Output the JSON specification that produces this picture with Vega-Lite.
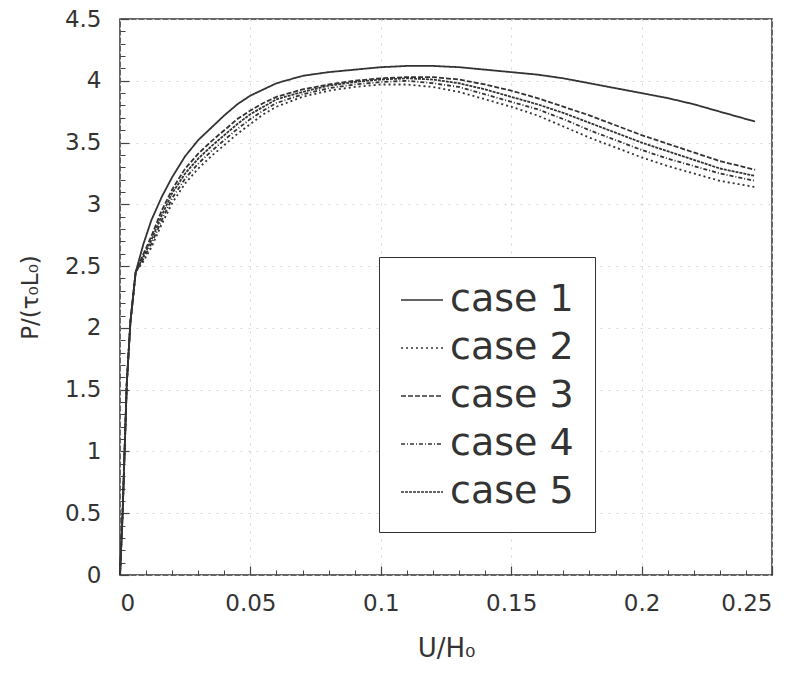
{
  "$schema": "https://vega.github.io/schema/vega-lite/v6.json",
  "width": 652,
  "height": 556,
  "autosize": "none",
  "padding": {"left": 120, "top": 19, "right": 38, "bottom": 105},
  "background": "white",
  "config": {
    "view": {"stroke": "#333", "strokeWidth": 1.5},
    "font": "DejaVu Sans"
  },
  "datasets": {
    "pts": [
      {"c":"case 1","x":0,"y":0},{"c":"case 1","x":0.001,"y":0.5},{"c":"case 1","x":0.0026,"y":1.55},{"c":"case 1","x":0.004,"y":2.05},{"c":"case 1","x":0.006,"y":2.45},{"c":"case 1","x":0.009,"y":2.68},{"c":"case 1","x":0.012,"y":2.87},{"c":"case 1","x":0.016,"y":3.06},{"c":"case 1","x":0.02,"y":3.22},{"c":"case 1","x":0.025,"y":3.39},{"c":"case 1","x":0.03,"y":3.52},{"c":"case 1","x":0.035,"y":3.62},{"c":"case 1","x":0.04,"y":3.72},{"c":"case 1","x":0.045,"y":3.81},{"c":"case 1","x":0.05,"y":3.88},{"c":"case 1","x":0.055,"y":3.93},{"c":"case 1","x":0.06,"y":3.98},{"c":"case 1","x":0.07,"y":4.04},{"c":"case 1","x":0.08,"y":4.07},{"c":"case 1","x":0.09,"y":4.09},{"c":"case 1","x":0.1,"y":4.11},{"c":"case 1","x":0.11,"y":4.12},{"c":"case 1","x":0.12,"y":4.12},{"c":"case 1","x":0.13,"y":4.11},{"c":"case 1","x":0.14,"y":4.09},{"c":"case 1","x":0.15,"y":4.07},{"c":"case 1","x":0.16,"y":4.05},{"c":"case 1","x":0.17,"y":4.02},{"c":"case 1","x":0.18,"y":3.98},{"c":"case 1","x":0.19,"y":3.94},{"c":"case 1","x":0.2,"y":3.9},{"c":"case 1","x":0.21,"y":3.86},{"c":"case 1","x":0.22,"y":3.81},{"c":"case 1","x":0.23,"y":3.75},{"c":"case 1","x":0.2435,"y":3.67},
      {"c":"case 2","x":0,"y":0},{"c":"case 2","x":0.001,"y":0.5},{"c":"case 2","x":0.0026,"y":1.55},{"c":"case 2","x":0.004,"y":2.05},{"c":"case 2","x":0.006,"y":2.45},{"c":"case 2","x":0.009,"y":2.54},{"c":"case 2","x":0.012,"y":2.65},{"c":"case 2","x":0.016,"y":2.84},{"c":"case 2","x":0.02,"y":3.01},{"c":"case 2","x":0.025,"y":3.17},{"c":"case 2","x":0.03,"y":3.29},{"c":"case 2","x":0.035,"y":3.39},{"c":"case 2","x":0.04,"y":3.48},{"c":"case 2","x":0.045,"y":3.57},{"c":"case 2","x":0.05,"y":3.65},{"c":"case 2","x":0.055,"y":3.73},{"c":"case 2","x":0.06,"y":3.79},{"c":"case 2","x":0.07,"y":3.87},{"c":"case 2","x":0.08,"y":3.92},{"c":"case 2","x":0.09,"y":3.95},{"c":"case 2","x":0.1,"y":3.97},{"c":"case 2","x":0.11,"y":3.97},{"c":"case 2","x":0.12,"y":3.95},{"c":"case 2","x":0.13,"y":3.91},{"c":"case 2","x":0.14,"y":3.85},{"c":"case 2","x":0.15,"y":3.79},{"c":"case 2","x":0.16,"y":3.72},{"c":"case 2","x":0.17,"y":3.63},{"c":"case 2","x":0.18,"y":3.54},{"c":"case 2","x":0.19,"y":3.46},{"c":"case 2","x":0.2,"y":3.38},{"c":"case 2","x":0.21,"y":3.31},{"c":"case 2","x":0.22,"y":3.25},{"c":"case 2","x":0.23,"y":3.19},{"c":"case 2","x":0.2435,"y":3.14},
      {"c":"case 3","x":0,"y":0},{"c":"case 3","x":0.001,"y":0.5},{"c":"case 3","x":0.0026,"y":1.55},{"c":"case 3","x":0.004,"y":2.05},{"c":"case 3","x":0.006,"y":2.45},{"c":"case 3","x":0.009,"y":2.6},{"c":"case 3","x":0.012,"y":2.74},{"c":"case 3","x":0.016,"y":2.95},{"c":"case 3","x":0.02,"y":3.12},{"c":"case 3","x":0.025,"y":3.29},{"c":"case 3","x":0.03,"y":3.41},{"c":"case 3","x":0.035,"y":3.51},{"c":"case 3","x":0.04,"y":3.6},{"c":"case 3","x":0.045,"y":3.69},{"c":"case 3","x":0.05,"y":3.76},{"c":"case 3","x":0.055,"y":3.82},{"c":"case 3","x":0.06,"y":3.87},{"c":"case 3","x":0.07,"y":3.93},{"c":"case 3","x":0.08,"y":3.97},{"c":"case 3","x":0.09,"y":4.0},{"c":"case 3","x":0.1,"y":4.02},{"c":"case 3","x":0.11,"y":4.03},{"c":"case 3","x":0.12,"y":4.03},{"c":"case 3","x":0.13,"y":4.01},{"c":"case 3","x":0.14,"y":3.97},{"c":"case 3","x":0.15,"y":3.92},{"c":"case 3","x":0.16,"y":3.86},{"c":"case 3","x":0.17,"y":3.79},{"c":"case 3","x":0.18,"y":3.72},{"c":"case 3","x":0.19,"y":3.64},{"c":"case 3","x":0.2,"y":3.56},{"c":"case 3","x":0.21,"y":3.49},{"c":"case 3","x":0.22,"y":3.42},{"c":"case 3","x":0.23,"y":3.35},{"c":"case 3","x":0.2435,"y":3.28},
      {"c":"case 4","x":0,"y":0},{"c":"case 4","x":0.001,"y":0.5},{"c":"case 4","x":0.0026,"y":1.55},{"c":"case 4","x":0.004,"y":2.05},{"c":"case 4","x":0.006,"y":2.45},{"c":"case 4","x":0.009,"y":2.56},{"c":"case 4","x":0.012,"y":2.68},{"c":"case 4","x":0.016,"y":2.87},{"c":"case 4","x":0.02,"y":3.05},{"c":"case 4","x":0.025,"y":3.21},{"c":"case 4","x":0.03,"y":3.33},{"c":"case 4","x":0.035,"y":3.43},{"c":"case 4","x":0.04,"y":3.52},{"c":"case 4","x":0.045,"y":3.61},{"c":"case 4","x":0.05,"y":3.69},{"c":"case 4","x":0.055,"y":3.76},{"c":"case 4","x":0.06,"y":3.82},{"c":"case 4","x":0.07,"y":3.89},{"c":"case 4","x":0.08,"y":3.94},{"c":"case 4","x":0.09,"y":3.97},{"c":"case 4","x":0.1,"y":3.99},{"c":"case 4","x":0.11,"y":4.0},{"c":"case 4","x":0.12,"y":3.98},{"c":"case 4","x":0.13,"y":3.95},{"c":"case 4","x":0.14,"y":3.89},{"c":"case 4","x":0.15,"y":3.83},{"c":"case 4","x":0.16,"y":3.77},{"c":"case 4","x":0.17,"y":3.69},{"c":"case 4","x":0.18,"y":3.6},{"c":"case 4","x":0.19,"y":3.52},{"c":"case 4","x":0.2,"y":3.44},{"c":"case 4","x":0.21,"y":3.37},{"c":"case 4","x":0.22,"y":3.31},{"c":"case 4","x":0.23,"y":3.25},{"c":"case 4","x":0.2435,"y":3.19},
      {"c":"case 5","x":0,"y":0},{"c":"case 5","x":0.001,"y":0.5},{"c":"case 5","x":0.0026,"y":1.55},{"c":"case 5","x":0.004,"y":2.05},{"c":"case 5","x":0.006,"y":2.45},{"c":"case 5","x":0.009,"y":2.58},{"c":"case 5","x":0.012,"y":2.71},{"c":"case 5","x":0.016,"y":2.91},{"c":"case 5","x":0.02,"y":3.09},{"c":"case 5","x":0.025,"y":3.25},{"c":"case 5","x":0.03,"y":3.37},{"c":"case 5","x":0.035,"y":3.47},{"c":"case 5","x":0.04,"y":3.56},{"c":"case 5","x":0.045,"y":3.65},{"c":"case 5","x":0.05,"y":3.73},{"c":"case 5","x":0.055,"y":3.79},{"c":"case 5","x":0.06,"y":3.85},{"c":"case 5","x":0.07,"y":3.91},{"c":"case 5","x":0.08,"y":3.96},{"c":"case 5","x":0.09,"y":3.99},{"c":"case 5","x":0.1,"y":4.01},{"c":"case 5","x":0.11,"y":4.02},{"c":"case 5","x":0.12,"y":4.01},{"c":"case 5","x":0.13,"y":3.98},{"c":"case 5","x":0.14,"y":3.93},{"c":"case 5","x":0.15,"y":3.87},{"c":"case 5","x":0.16,"y":3.81},{"c":"case 5","x":0.17,"y":3.74},{"c":"case 5","x":0.18,"y":3.66},{"c":"case 5","x":0.19,"y":3.58},{"c":"case 5","x":0.2,"y":3.5},{"c":"case 5","x":0.21,"y":3.43},{"c":"case 5","x":0.22,"y":3.36},{"c":"case 5","x":0.23,"y":3.29},{"c":"case 5","x":0.2435,"y":3.23}
    ]
  },
  "data": {"name": "pts"},
  "resolve": {"axis": {"x": "independent", "y": "independent"}},
  "layer": [
    {
      "mark": {"type": "line", "opacity": 0},
      "encoding": {
        "x": {"field": "x", "type": "quantitative", "scale": {"domain": [0, 0.25], "nice": false},
          "axis": {"orient": "bottom", "title": null, "labels": false, "grid": false, "domain": false,
            "values": [0.01,0.02,0.03,0.04,0.06,0.07,0.08,0.09,0.11,0.12,0.13,0.14,0.16,0.17,0.18,0.19,0.21,0.22,0.23,0.24],
            "tickSize": -5, "tickColor": "#444", "tickWidth": 1}},
        "y": {"field": "y", "type": "quantitative", "scale": {"domain": [0, 4.5], "nice": false},
          "axis": {"orient": "left", "title": null, "labels": false, "grid": false, "domain": false,
            "values": [0.1,0.2,0.3,0.4,0.6,0.7,0.8,0.9,1.1,1.2,1.3,1.4,1.6,1.7,1.8,1.9,2.1,2.2,2.3,2.4,2.6,2.7,2.8,2.9,3.1,3.2,3.3,3.4,3.6,3.7,3.8,3.9,4.1,4.2,4.3,4.4],
            "tickSize": -5, "tickColor": "#444", "tickWidth": 1}},
        "detail": {"field": "c"}
      }
    },
    {
      "mark": {"type": "line", "color": "#333", "strokeWidth": 1.8},
      "encoding": {
        "x": {"field": "x", "type": "quantitative", "scale": {"domain": [0, 0.25], "nice": false},
          "axis": {"orient": "bottom", "title": "U/H₀", "titleFontSize": 26, "titleFontWeight": "normal", "titleColor": "#333", "titlePadding": 20,
            "values": [0, 0.05, 0.1, 0.15, 0.2, 0.25], "labelExpr": "datum.value",
            "labelFontSize": 23, "labelColor": "#333", "labelPadding": 26, "tickSize": -9, "tickColor": "#444", "tickWidth": 1.2,
            "domain": false, "grid": true, "gridColor": "#d4d4d4", "gridDash": [2, 6], "gridWidth": 1}},
        "y": {"field": "y", "type": "quantitative", "scale": {"domain": [0, 4.5], "nice": false},
          "axis": {"orient": "left", "title": "P/(τ₀L₀)", "titleFontSize": 23, "titleFontWeight": "normal", "titleColor": "#333", "titlePadding": 22,
            "values": [0, 0.5, 1, 1.5, 2, 2.5, 3, 3.5, 4, 4.5], "labelExpr": "datum.value",
            "labelFontSize": 23, "labelColor": "#333", "labelPadding": 28, "tickSize": -9, "tickColor": "#444", "tickWidth": 1.2,
            "domain": false, "grid": true, "gridColor": "#d4d4d4", "gridDash": [2, 6], "gridWidth": 1}},
        "strokeDash": {"field": "c", "type": "nominal",
          "scale": {"domain": ["case 1", "case 2", "case 3", "case 4", "case 5"],
                    "range": [[1, 0], [2, 3], [5, 2], [4, 2, 1, 2], [3, 1]]},
          "legend": {"title": null, "orient": "none", "legendX": 259, "legendY": 238,
            "padding": 21, "strokeColor": "#333", "fillColor": "white",
            "labelFont": "DejaVu Sans", "labelFontSize": 38, "labelColor": "#333", "labelOffset": 6, "rowPadding": 7,
            "symbolType": "stroke", "symbolSize": 1764, "symbolStrokeWidth": 1.5, "symbolStrokeColor": "#333"}}
      }
    }
  ]
}
